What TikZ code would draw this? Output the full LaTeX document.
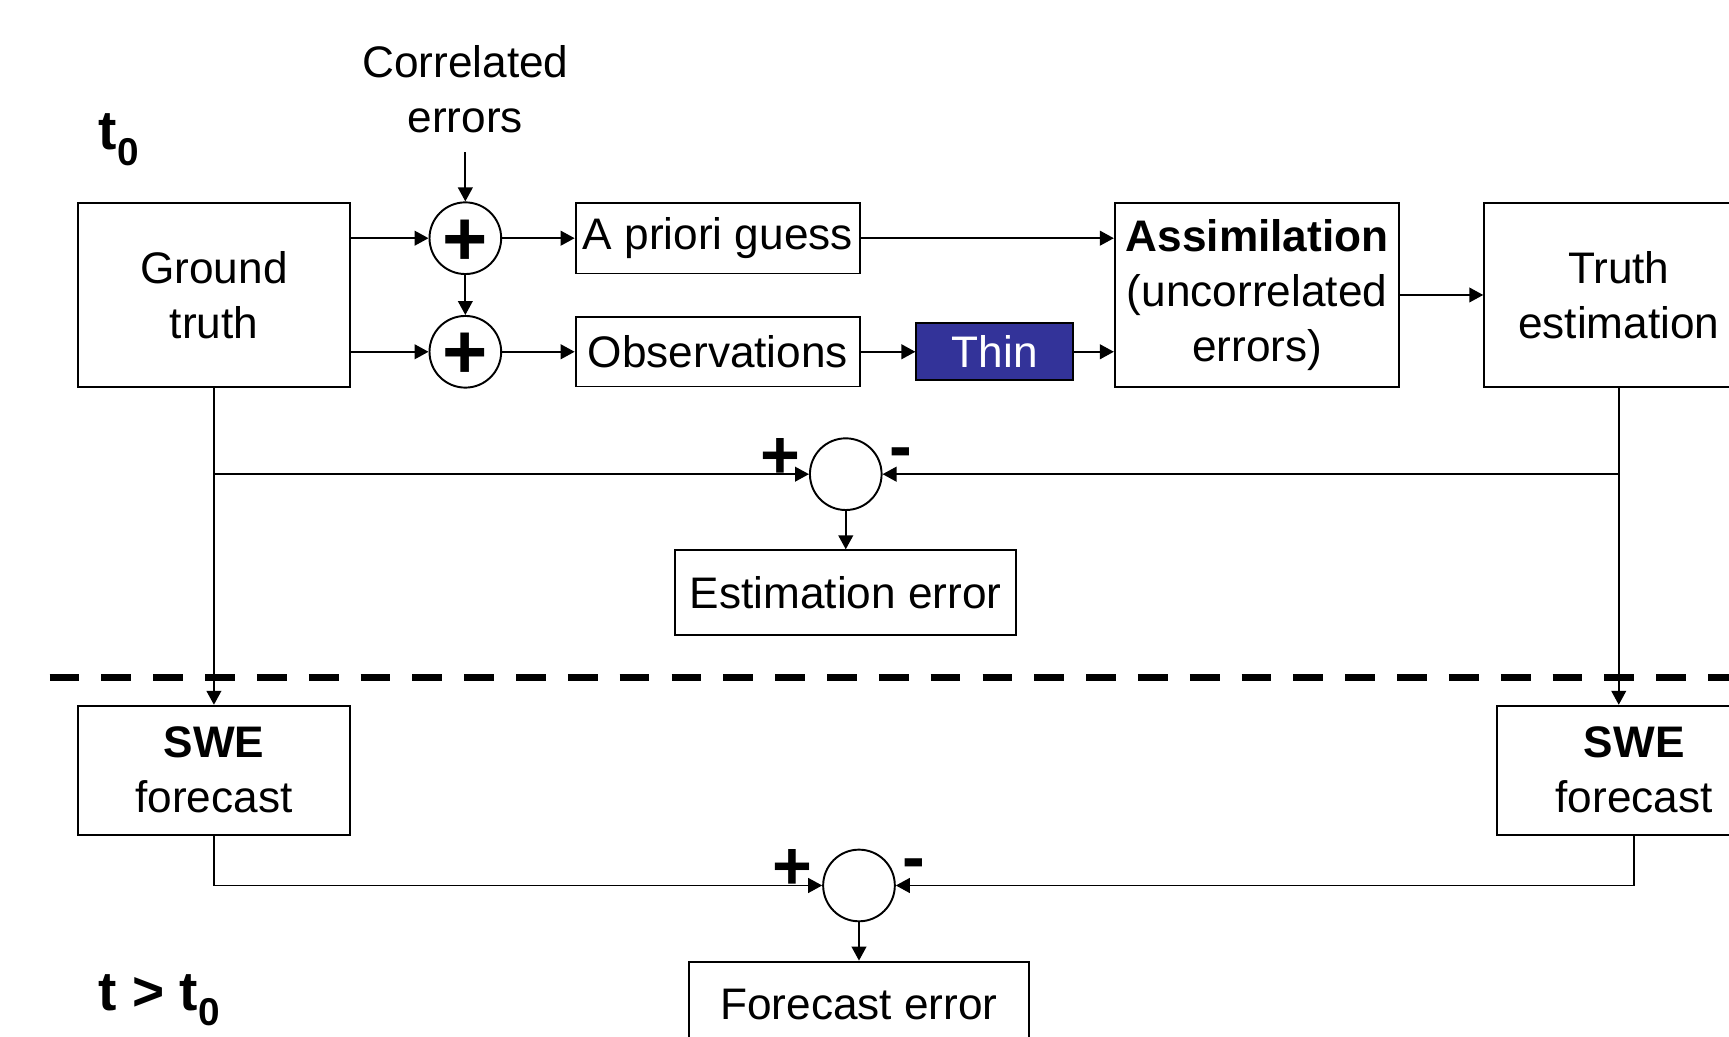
\documentclass[tikz,border=0pt]{standalone}
\usepackage{fontspec}
\setmainfont{Liberation Sans}
\usetikzlibrary{arrows.meta, positioning, calc}
\definecolor{thinblue}{RGB}{51, 51, 153}

\begin{document}
\begin{tikzpicture}[x=1cm, y=-1cm,
    font=\fontsize{11.4}{14.2}\selectfont,
    box/.style={draw, line width=0.5pt, inner sep=0pt, align=center},
    sumnode/.style={draw, circle, line width=0.5pt, minimum size=0.65cm, inner sep=0pt,
      text height=14pt, text depth=0pt, font=\bfseries\fontsize{20}{20}\selectfont},
    arr/.style={-{Triangle[length=3.6pt, width=3.8pt]}, line width=0.45pt},
    sign/.style={anchor=base, inner sep=0pt, font=\bfseries\fontsize{17.6}{17.6}\selectfont},
    timelabel/.style={anchor=base west, inner sep=0pt, font=\bfseries\fontsize{14.2}{14.2}\selectfont}]

  % 画幅（右侧和底部的框被裁掉一部分）
  \clip (0,0) rectangle (15.68,9.40);

  % 时间标记
  \node[timelabel] (tzero) at (0.89,1.36) {t\raisebox{-4pt}{\fontsize{10}{10}\selectfont 0}};
  \node[timelabel] (tlater) at (0.89,9.16) {t > t\raisebox{-4pt}{\fontsize{10}{10}\selectfont 0}};

  % t0：真值、加误差、同化
  \node[align=center] (corr) at (4.22,0.81) {Correlated\\errors};
  \coordinate (corrfoot) at (4.22,1.38);
  \node[box, minimum width=2.46cm, minimum height=1.67cm] (gt) at (1.94,2.675) {Ground\\truth};
  \node[sumnode] (sum1) at (4.22,2.16) {+};
  \node[sumnode] (sum2) at (4.22,3.19) {+};
  \node[box, minimum width=2.58cm, minimum height=0.64cm] (prior) at (6.51,2.16) {A priori guess};
  \node[box, minimum width=2.58cm, minimum height=0.63cm] (obs) at (6.51,3.19) {Observations};
  \node[box, fill=thinblue, text=white, minimum width=1.42cm, minimum height=0.52cm] (thin) at (9.02,3.19) {Thin};
  \node[box, minimum width=2.58cm, minimum height=1.67cm] (assim) at (11.40,2.675) {\textbf{Assimilation}\\(uncorrelated\\errors)};
  \node[box, minimum width=2.44cm, minimum height=1.67cm] (truth) at (14.68,2.675) {Truth\\estimation};

  \draw[arr] (corrfoot) -- (sum1);
  \draw[arr] (gt.east |- sum1) -- (sum1);
  \draw[arr] (gt.east |- sum2) -- (sum2);
  \draw[arr] (sum1) -- (sum2);
  \draw[arr] (sum1) -- (prior);
  \draw[arr] (sum2) -- (obs);
  \draw[arr] (prior) -- (assim.west |- prior);
  \draw[arr] (obs) -- (thin);
  \draw[arr] (thin) -- (assim.west |- thin);
  \draw[arr] (assim) -- (truth);

  % 估计误差
  \node[sumnode] (diff1) at (7.67,4.30) {};
  \node[sign] (plus1) at (7.075,4.34) {+};
  \node[sign] (minus1) at (8.17,4.255) {-};
  \node[box, minimum width=3.09cm, minimum height=0.77cm] (esterr) at (7.67,5.375) {Estimation error};

  % 虚线分隔 t0 与 t > t0
  \coordinate (sepL) at (0.45,6.14);
  \coordinate (sepR) at (15.68,6.14);
  \draw[line width=1.8pt, dash pattern=on 0.27cm off 0.20cm] (sepL) -- (sepR);

  % t > t0：两路预报与预报误差
  \node[box, minimum width=2.46cm, minimum height=1.17cm] (swe1) at (1.94,6.985) {\textbf{SWE}\\forecast};
  \node[box, minimum width=2.48cm, minimum height=1.17cm] (swe2) at (14.82,6.985) {\textbf{SWE}\\forecast};
  \node[sumnode] (diff2) at (7.79,8.03) {};
  \node[sign] (plus2) at (7.19,8.07) {+};
  \node[sign] (minus2) at (8.29,7.985) {-};
  \node[box, minimum width=3.09cm, minimum height=0.77cm] (fcerr) at (7.79,9.105) {Forecast error};

  \draw[arr] (gt) -- (swe1);
  \draw[arr] (truth.south) -- (truth.south |- swe2.north);
  \draw[arr] (gt.south |- diff1) -- (diff1);
  \draw[arr] (truth.south |- diff1) -- (diff1);
  \draw[arr] (diff1) -- (esterr);
  \draw[arr] (swe1) |- (diff2);
  \draw[arr] (swe2) |- (diff2);
  \draw[arr] (diff2) -- (fcerr);

\end{tikzpicture}
\end{document}
